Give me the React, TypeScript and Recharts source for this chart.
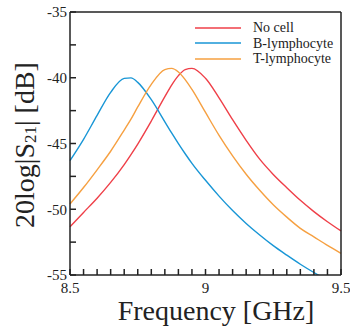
import { Label, Line, LineChart, XAxis, YAxis } from "recharts";

// frequency points [GHz]
const freq = [
  8.5, 8.55, 8.6, 8.65, 8.7, 8.725, 8.75, 8.8, 8.85, 8.875, 8.9, 8.925, 8.95,
  9.0, 9.05, 9.1, 9.15, 9.2, 9.25, 9.3, 9.35, 9.4, 9.45, 9.5,
];

// 20log|S21| [dB]
const noCell = [
  -51.33, -50.24, -49.16, -47.96, -46.6, -45.84, -45.04, -43.29, -41.44,
  -40.56, -39.84, -39.38, -39.29, -40.04, -41.53, -43.19, -44.76, -46.19,
  -47.35, -48.36, -49.32, -50.18, -50.95, -51.65,
];
const bLympho = [
  -46.3, -44.68, -42.86, -41.11, -40.05, -40.01, -40.35, -41.67, -43.35,
  -44.2, -45.01, -45.78, -46.51, -47.8, -49.0, -50.1, -51.08, -51.96,
  -52.77, -53.49, -54.18, -54.81, -55.4, -55.95,
];
const tLympho = [
  -49.6, -48.35, -47.0, -45.59, -43.98, -43.15, -42.22, -40.5, -39.38, -39.29,
  -39.56, -40.14, -40.89, -42.64, -44.38, -45.94, -47.34, -48.56, -49.66,
  -50.6, -51.45, -52.1, -52.75, -53.35,
];

const seriesNames = ["No cell", "B-lymphocyte", "T-lymphocyte"];
const seriesKeys = ["noCell", "bLympho", "tLympho"];
const seriesColors = ["#ef3f48", "#1896d6", "#f6a041"];

const xTicks = [
  8.5, 8.55, 8.6, 8.65, 8.7, 8.75, 8.8, 8.85, 8.9, 8.95, 9.0, 9.05, 9.1, 9.15,
  9.2, 9.25, 9.3, 9.35, 9.4, 9.45, 9.5,
];
const xLabels = [8.5, 9, 9.5];
const yTicks = [-55, -52.5, -50, -47.5, -45, -42.5, -40, -37.5, -35];
const yLabels = [-55, -50, -45, -40, -35];

const data = freq.map((f, i) => ({
  f,
  noCell: noCell[i],
  bLympho: bLympho[i],
  tLympho: tLympho[i],
}));

const font =
  "Liberation Serif, Times New Roman, Times, Tinos, DejaVu Serif, serif";
const axisColor = "#222";

const showIf = (list: number[]) => (v: number) =>
  list.some((l) => Math.abs(l - v) < 1e-6) ? String(v) : "";

export default function App() {
  return (
    <div
      style={{
        position: "absolute",
        left: 0,
        top: 0,
        width: 350,
        height: 329,
        background: "#fff",
      }}
    >
      <LineChart
        width={350}
        height={329}
        data={data}
        margin={{ top: 0, right: 0, bottom: 0, left: 0 }}
      >
        <XAxis
          xAxisId="b"
          dataKey="f"
          type="number"
          domain={[8.5, 9.5]}
          ticks={xTicks}
          interval={0}
          height={54}
          tickSize={-6}
          tickMargin={13}
          stroke={axisColor}
          strokeWidth={1.5}
          tick={{ fill: "#222", fontSize: 15, fontFamily: font }}
          tickFormatter={showIf(xLabels)}
        >
          <Label
            content={() => (
              <text
                x={216}
                y={320}
                textAnchor="middle"
                fontFamily={font}
                fontSize={28}
                fill="#222"
              >
                Frequency [GHz]
              </text>
            )}
          />
        </XAxis>
        <XAxis
          xAxisId="t"
          orientation="top"
          dataKey="f"
          type="number"
          domain={[8.5, 9.5]}
          ticks={xTicks}
          interval={0}
          height={12}
          tickSize={-6}
          tick={false}
          stroke={axisColor}
          strokeWidth={1.5}
        />
        <YAxis
          yAxisId="l"
          type="number"
          domain={[-55, -35]}
          ticks={yTicks}
          interval={0}
          allowDataOverflow
          width={70}
          tickSize={-6}
          tickMargin={9}
          stroke={axisColor}
          strokeWidth={1.5}
          tick={{ fill: "#222", fontSize: 15, fontFamily: font }}
          tickFormatter={showIf(yLabels)}
        >
          <Label
            content={() => (
              <text
                x={24}
                y={145}
                transform="rotate(-90 24 145)"
                textAnchor="middle"
                dominantBaseline="central"
                fontFamily={font}
                fontSize={28}
                fill="#222"
              >
                20log|S
                <tspan fontSize={17} dy={6}>
                  21
                </tspan>
                <tspan dy={-6}>| [dB]</tspan>
              </text>
            )}
          />
        </YAxis>
        <YAxis
          yAxisId="r"
          orientation="right"
          type="number"
          domain={[-55, -35]}
          ticks={yTicks}
          interval={0}
          width={9}
          tickSize={-6}
          tick={false}
          stroke={axisColor}
          strokeWidth={1.5}
        />
        {seriesKeys.map((k, i) => (
          <Line
            key={k}
            xAxisId="b"
            yAxisId="l"
            type="monotone"
            dataKey={k}
            name={seriesNames[i]}
            stroke={seriesColors[i]}
            strokeWidth={1.4}
            dot={false}
            isAnimationActive={false}
          />
        ))}
      </LineChart>
      {/* legend */}
      <div
        style={{
          position: "absolute",
          left: 195,
          top: 20,
          fontFamily: font,
          fontSize: 14,
          color: "#222",
          lineHeight: "15.5px",
        }}
      >
        {seriesNames.map((n, i) => (
          <div key={n} style={{ display: "flex", alignItems: "center", height: 15.5 }}>
            <svg width={58} height={4} style={{ display: "block" }}>
              <line x1={0} x2={46} y1={2} y2={2} stroke={seriesColors[i]} strokeWidth={1.5} />
            </svg>
            <span>{n}</span>
          </div>
        ))}
      </div>
    </div>
  );
}
